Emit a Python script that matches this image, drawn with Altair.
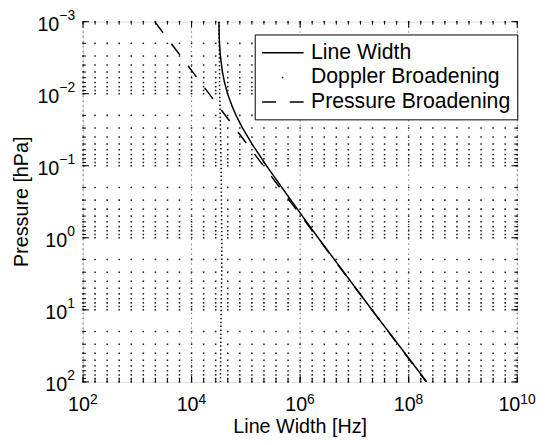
import altair as alt
import pandas as pd

# ---------------- data ----------------
lw_pressure = [1e-3, 1.5e-3, 2e-3, 3e-3, 5e-3, 7e-3, 1e-2, 1.5e-2, 2e-2, 3e-2,
               5e-2, 7e-2, 0.1, 0.2, 0.5, 1, 10, 100]
lw_width = [3.2e4, 3.22e4, 3.27e4, 3.4e4, 3.7e4, 4.05e4, 4.6e4, 5.6e4, 6.6e4, 8.7e4,
            1.3e5, 1.75e5, 2.4e5, 4.6e5, 1.1e6, 2.15e6, 2.1e7, 2.15e8]

dop_pressure = [1e-3, 3e-3, 1e-2, 3e-2, 0.1, 0.3, 1, 3, 10, 30, 100]
dop_width = [3.2e4, 3.25e4, 3.3e4, 3.4e4, 3.5e4, 3.55e4, 3.6e4, 3.6e4, 3.5e4, 3.45e4, 3.4e4]

pb_pressure = [1e-3, 100]
pb_width = [2.1e3, 2.1e8]

series_names = ["Line Width", "Doppler Broadening", "Pressure Broadening"]

x_major = [1e2, 1e4, 1e6, 1e8, 1e10]
x_exp = ["2", "4", "6", "8", "10"]
y_major = [1e-3, 1e-2, 1e-1, 1e0, 1e1, 1e2]
y_exp = ["\u22123", "\u22122", "\u22121", "0", "1", "2"]

x_title = "Line Width [Hz]"
y_title = "Pressure [hPa]"

x_minor = [10 ** (2 + 2 * i / 9) for i in range(37)]
y_minor = [m * 10.0 ** k for k in range(-3, 2) for m in range(1, 10)] + [100.0]

W, H = 440, 365
FONT = "Liberation Sans"

# ---------------- tables ----------------
lines_df = pd.concat([
    pd.DataFrame({"p": lw_pressure, "w": lw_width, "series": series_names[0]}),
    pd.DataFrame({"p": pb_pressure, "w": pb_width, "series": series_names[2]}),
])
dop_df = pd.DataFrame({"p": dop_pressure, "w": dop_width})

dots_df = pd.DataFrame([{"x": xv, "y": yv} for xv in x_minor for yv in y_minor])
xmaj_df = pd.DataFrame({"v": x_major, "e": x_exp})
ymaj_df = pd.DataFrame({"v": y_major, "e": y_exp})
xmin_df = pd.DataFrame({"v": x_minor})
ymin_df = pd.DataFrame({"v": y_minor})

xs = alt.Scale(type="log", domain=[1e2, 1e10], nice=False)
ys = alt.Scale(type="log", domain=[1e-3, 1e2], nice=False, reverse=True)

X = lambda f: alt.X(f, type="quantitative", scale=xs, axis=None)
Y = lambda f: alt.Y(f, type="quantitative", scale=ys, axis=None)

# grid: intersection dots + major vertical dotted lines
dots = alt.Chart(dots_df).mark_square(size=2.5, color="#222", opacity=1).encode(x=X("x"), y=Y("y"))
vmaj = alt.Chart(xmaj_df).mark_rule(color="#333", strokeDash=[1, 4], strokeWidth=1).encode(x=X("v"))

# ticks (inward)
def xticks(df, ln):
    b = alt.Chart(df).mark_rule(color="black", strokeWidth=1).encode(
        x=X("v"), y=alt.value(H), y2=alt.value(H - ln))
    t = alt.Chart(df).mark_rule(color="black", strokeWidth=1).encode(
        x=X("v"), y=alt.value(0), y2=alt.value(ln))
    return [b, t]

def yticks(df, ln):
    l = alt.Chart(df).mark_rule(color="black", strokeWidth=1).encode(
        y=Y("v"), x=alt.value(0), x2=alt.value(ln))
    r = alt.Chart(df).mark_rule(color="black", strokeWidth=1).encode(
        y=Y("v"), x=alt.value(W), x2=alt.value(W - ln))
    return [l, r]

ticks = xticks(xmaj_df, 6) + xticks(xmin_df, 3) + yticks(ymaj_df, 6) + yticks(ymin_df, 3)

# tick labels
xl1 = alt.Chart(xmaj_df).transform_filter("length(datum.e) == 1")
xl2 = alt.Chart(xmaj_df).transform_filter("length(datum.e) == 2")
xlabels = [
    xl1.mark_text(text="10", font=FONT, fontSize=20, align="center", baseline="alphabetic", dx=-4, color="black").encode(x=X("v"), y=alt.value(H + 30)),
    xl1.mark_text(font=FONT, fontSize=14, align="left", baseline="alphabetic", dx=7, color="black").encode(x=X("v"), y=alt.value(H + 22), text="e:N"),
    xl2.mark_text(text="10", font=FONT, fontSize=20, align="center", baseline="alphabetic", dx=-8, color="black").encode(x=X("v"), y=alt.value(H + 30)),
    xl2.mark_text(font=FONT, fontSize=14, align="left", baseline="alphabetic", dx=3, color="black").encode(x=X("v"), y=alt.value(H + 22), text="e:N"),
]
yn = alt.Chart(ymaj_df).transform_filter("indexof(datum.e, '\u2212') >= 0")
yp = alt.Chart(ymaj_df).transform_filter("indexof(datum.e, '\u2212') < 0")
ylabels = [
    yn.mark_text(text="10", font=FONT, fontSize=20, align="right", baseline="middle", dy=3, color="black").encode(y=Y("v"), x=alt.value(-24)),
    yn.mark_text(font=FONT, fontSize=14, align="left", baseline="middle", dy=-6, color="black").encode(y=Y("v"), x=alt.value(-24), text="e:N"),
    yp.mark_text(text="10", font=FONT, fontSize=20, align="right", baseline="middle", dy=3, color="black").encode(y=Y("v"), x=alt.value(-16)),
    yp.mark_text(font=FONT, fontSize=14, align="left", baseline="middle", dy=-6, color="black").encode(y=Y("v"), x=alt.value(-16), text="e:N"),
]

# axis titles
titles_df = pd.DataFrame({"t": [x_title]})
ytitles_df = pd.DataFrame({"t": [y_title]})
xtitle = alt.Chart(titles_df).mark_text(font=FONT, fontSize=20, align="center", baseline="middle", color="black").encode(
    text="t:N", x=alt.value(W / 2), y=alt.value(H + 46))
ytitle = alt.Chart(ytitles_df).mark_text(font=FONT, fontSize=20, align="center", baseline="middle", angle=270, color="black").encode(
    text="t:N", x=alt.value(-62), y=alt.value(H / 2))

# data lines
dop_line = alt.Chart(dop_df).mark_line(color="black", strokeWidth=1.5, strokeDash=[1.5, 2.5]).encode(
    x=X("w"), y=Y("p"), order="p:Q")

main_lines = alt.Chart(lines_df).mark_line(color="black", strokeWidth=1.5).encode(
    x=X("w"), y=Y("p"),
    order="p:Q",
    strokeDash=alt.StrokeDash(
        "series:N",
        scale=alt.Scale(domain=series_names, range=[[1, 0], [0, 20, 1.5, 100], [14, 14]]),
        legend=alt.Legend(title=None, orient="none", legendX=174, legendY=13,
                          strokeColor="black", fillColor="white", padding=7,
                          labelFont=FONT, labelFontSize=21.5, labelColor="black",
                          labelOffset=17, labelLimit=0,
                          symbolType="M-2,0H2", symbolSize=441, symbolOffset=10,
                          symbolStrokeWidth=1.5, symbolStrokeColor="black", rowPadding=3),
    ),
)

chart = alt.layer(dots, vmaj, *ticks, dop_line, main_lines, *xlabels, *ylabels, xtitle, ytitle).properties(
    width=W, height=H,
    autosize=alt.AutoSizeParams(type="none"),
    padding={"left": 76, "top": 11, "right": 20, "bottom": 53},
    background="white",
).configure_view(stroke="black", strokeWidth=1.5).configure(font=FONT)

chart.save("out.html", embed_options={"renderer": "svg", "actions": False})
